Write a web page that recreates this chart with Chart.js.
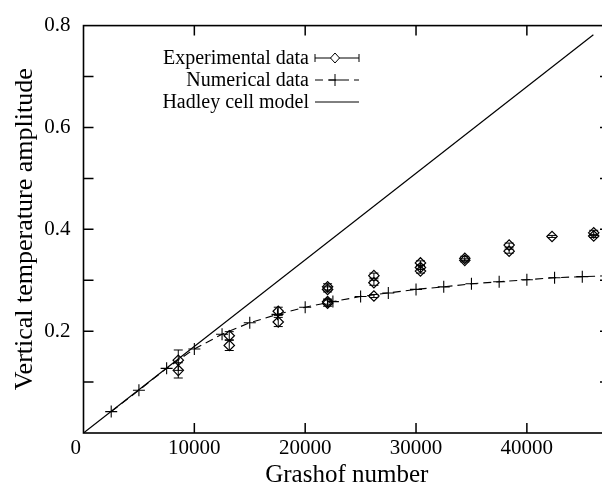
<!DOCTYPE html>
<html>
<head>
<meta charset="utf-8">
<script src="https://cdn.jsdelivr.net/npm/chart.js@4/dist/chart.umd.min.js"></script>
<style>
  html, body { margin: 0; padding: 0; background: #fff; overflow: hidden; }
  #wrap { width: 612px; height: 495px; }
</style>
</head>
<body>
<div id="wrap"><canvas id="chart" width="612" height="495"></canvas></div>
<script>
// experimental data (Grashof number, amplitude, error)
var expGr = [8550, 8550, 13150, 13150, 17570, 17570, 22020, 22020, 22020, 22020,
             26200, 26200, 26200, 30400, 30400, 30400, 34400, 34400, 38400, 38400,
             42270, 46030, 46030];
var expAmp = [0.143, 0.123, 0.191, 0.172, 0.239, 0.218, 0.287, 0.282, 0.258, 0.255,
              0.309, 0.295, 0.269, 0.334, 0.325, 0.318, 0.343, 0.339, 0.369, 0.357,
              0.386, 0.393, 0.387];
var expErr = [0.020, 0.015, 0.008, 0.010, 0.008, 0.009, 0.006, 0.005, 0.005, 0.006,
              0.005, 0.005, 0.003, 0.004, 0.004, 0.004, 0.004, 0.003, 0.004, 0.004,
              0.002, 0.005, 0.003];

// numerical data
var numGr = [2500, 5000, 7500, 10000, 12500, 15000, 17500, 20000, 22500, 25000,
             27500, 30000, 32500, 35000, 37500, 40000, 42500, 45000, 47500];
var numAmp = [0.042, 0.084, 0.127, 0.165, 0.194, 0.2165, 0.233, 0.247, 0.258, 0.268,
              0.275, 0.282, 0.287, 0.293, 0.297, 0.301, 0.305, 0.307, 0.309];

// Hadley cell model
var hadleyGr = [0, 46000];
var hadleyAmp = [0, 0.782];

var xTickVals = [0, 10000, 20000, 30000, 40000];
var yTickVals = [0, 0.1, 0.2, 0.3, 0.4, 0.5, 0.6, 0.7, 0.8];

var legendLabels = ['Experimental data', 'Numerical data', 'Hadley cell model'];
var xTitle = 'Grashof number';
var yTitle = 'Vertical temperature amplitude';

var serif = 'Liberation Serif';

function pts(xs, ys) {
    return xs.map(function (x, i) { return {x: x, y: ys[i]}; });
}

// error bars, frame, inward ticks and legend
var gnuplotLook = {
    id: 'gnuplotLook',
    afterDatasetsDraw: function (chart) {
        var ctx = chart.ctx;
        var xs = chart.scales.x, ys = chart.scales.y;
        var a = chart.chartArea;
        ctx.save();
        ctx.strokeStyle = '#000';
        ctx.lineWidth = 1;
        // error bars
        for (var i = 0; i < expGr.length; i++) {
            var px = xs.getPixelForValue(expGr[i]);
            var y1 = ys.getPixelForValue(expAmp[i] + expErr[i]);
            var y2 = ys.getPixelForValue(expAmp[i] - expErr[i]);
            ctx.beginPath();
            ctx.moveTo(px, y1); ctx.lineTo(px, y2);
            ctx.moveTo(px - 4.5, y1); ctx.lineTo(px + 4.5, y1);
            ctx.moveTo(px - 4.5, y2); ctx.lineTo(px + 4.5, y2);
            ctx.stroke();
        }
        // inward ticks
        ctx.lineWidth = 1.5;
        ctx.beginPath();
        xTickVals.forEach(function (v) {
            if (v <= xs.min || v >= xs.max) return;
            var p = xs.getPixelForValue(v);
            ctx.moveTo(p, a.bottom); ctx.lineTo(p, a.bottom - 10);
            ctx.moveTo(p, a.top); ctx.lineTo(p, a.top + 10);
        });
        yTickVals.forEach(function (v) {
            if (v <= ys.min || v >= ys.max) return;
            var p = ys.getPixelForValue(v);
            ctx.moveTo(a.left, p); ctx.lineTo(a.left + 10, p);
            ctx.moveTo(a.right, p); ctx.lineTo(a.right - 10, p);
        });
        ctx.stroke();
        // frame
        ctx.lineWidth = 1.6;
        ctx.strokeRect(a.left, a.top, a.right - a.left, a.bottom - a.top);

        // legend
        var tx = 309, sx0 = 315, sx1 = 359, mx = 335;
        var rows = [58, 80, 102];
        ctx.font = '20px "' + serif + '"';
        ctx.fillStyle = '#000';
        ctx.textAlign = 'right';
        ctx.textBaseline = 'middle';
        legendLabels.forEach(function (lab, k) {
            ctx.fillText(lab, tx, rows[k] + 1);
        });
        ctx.lineWidth = 1;
        // experimental sample
        var r = rows[0];
        ctx.beginPath();
        ctx.moveTo(sx0, r); ctx.lineTo(sx1, r);
        ctx.moveTo(sx0, r - 4); ctx.lineTo(sx0, r + 4);
        ctx.moveTo(sx1, r - 4); ctx.lineTo(sx1, r + 4);
        ctx.stroke();
        ctx.beginPath();
        ctx.moveTo(mx, r - 5); ctx.lineTo(mx + 4.5, r); ctx.lineTo(mx, r + 5); ctx.lineTo(mx - 4.5, r); ctx.closePath();
        ctx.fillStyle = '#fff'; ctx.fill(); ctx.stroke();
        // numerical sample
        r = rows[1];
        ctx.setLineDash([8, 5]);
        ctx.beginPath(); ctx.moveTo(sx0, r); ctx.lineTo(sx1, r); ctx.stroke();
        ctx.setLineDash([]);
        ctx.beginPath();
        ctx.moveTo(mx - 6, r); ctx.lineTo(mx + 6, r);
        ctx.moveTo(mx, r - 6); ctx.lineTo(mx, r + 6);
        ctx.stroke();
        // hadley sample
        r = rows[2];
        ctx.beginPath(); ctx.moveTo(sx0, r); ctx.lineTo(sx1, r); ctx.stroke();
        ctx.restore();
    }
};

var config = {
    type: 'scatter',
    data: {
        datasets: [{
            label: legendLabels[0],
            data: pts(expGr, expAmp),
            showLine: false,
            pointStyle: 'rectRot',
            pointRadius: 5.2,
            pointBorderWidth: 1.2,
            borderColor: '#000',
            backgroundColor: 'rgba(0,0,0,0)'
        }, {
            label: legendLabels[1],
            data: pts(numGr, numAmp),
            showLine: true,
            borderDash: [8, 5],
            borderWidth: 1.1,
            borderColor: '#000',
            pointStyle: 'cross',
            pointRadius: 6,
            pointBorderWidth: 1.1,
            tension: 0
        }, {
            label: legendLabels[2],
            data: pts(hadleyGr, hadleyAmp),
            showLine: true,
            borderWidth: 1.2,
            borderColor: '#000',
            pointRadius: 0,
            tension: 0
        }]
    },
    options: {
        responsive: false,
        animation: false,
        layout: { autoPadding: false, padding: { top: 15.5, right: 2, left: 0, bottom: 0 } },
        plugins: { legend: { display: false }, tooltip: { enabled: false } },
        scales: {
            x: {
                type: 'linear',
                min: 0,
                max: 47500,
                afterFit: function (s) { s.height = 62; },
                afterBuildTicks: function (s) {
                    s.ticks = xTickVals.map(function (v) { return {value: v}; });
                },
                grid: { display: false, drawTicks: false },
                border: { display: false },
                ticks: {
                    autoSkip: false,
                    maxRotation: 0,
                    padding: 3,
                    color: '#000',
                    font: { family: serif, size: 21 },
                    callback: function (v) { return v === 0 ? '0   ' : String(v); }
                },
                title: {
                    display: true,
                    text: xTitle,
                    color: '#000',
                    font: { family: serif, size: 25 },
                    padding: { top: 0, bottom: 5 }
                }
            },
            y: {
                type: 'linear',
                min: 0,
                max: 0.8,
                afterFit: function (s) { s.width = 83.5; },
                afterBuildTicks: function (s) {
                    s.ticks = yTickVals.map(function (v) { return {value: v}; });
                },
                grid: { display: false, drawTicks: false },
                border: { display: false },
                ticks: {
                    autoSkip: false,
                    padding: 13,
                    color: '#000',
                    font: { family: serif, size: 21 },
                    callback: function (v, i) {
                        if (i === 0 || i % 2 === 1) return '';
                        return v.toFixed(1);
                    }
                },
                title: {
                    display: true,
                    text: yTitle,
                    color: '#000',
                    font: { family: serif, size: 26 },
                    padding: { top: 10, bottom: 0 }
                }
            }
        }
    },
    plugins: [gnuplotLook]
};

var chart = new Chart(document.getElementById('chart'), config);
</script>
</body>
</html>
